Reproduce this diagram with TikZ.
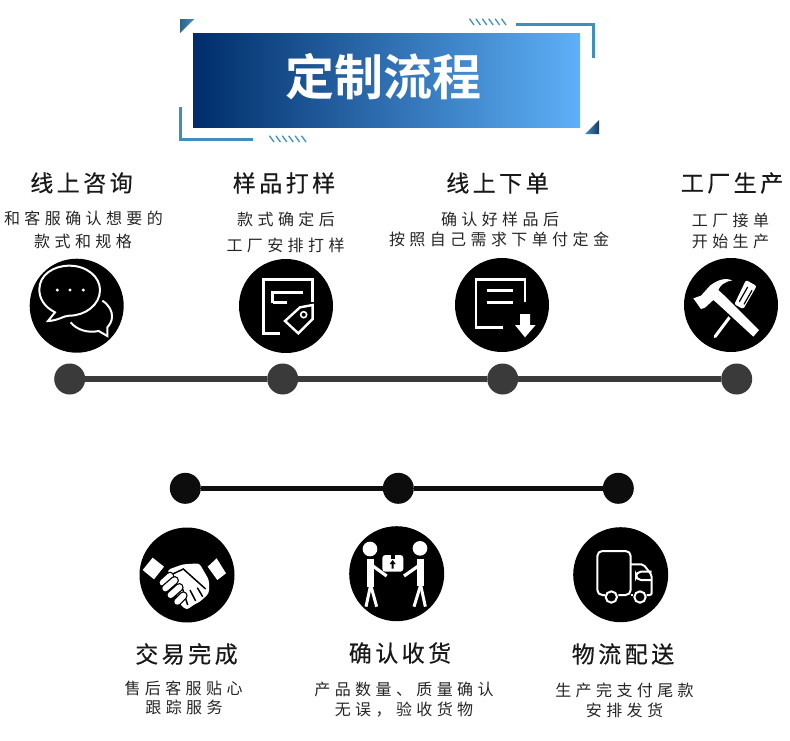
\documentclass[tikz,border=0pt]{standalone}
\usepackage{fontspec}
\usetikzlibrary{calc}
\setmainfont{Noto Sans CJK SC}
\newfontfamily\titlefont[BoldFont={Noto Sans CJK SC Bold}]{Noto Sans CJK SC}
\newfontfamily\headfont[LetterSpace=15,FakeBold=0.4]{Noto Sans CJK SC}
\newfontfamily\bodyfont[LetterSpace=27.5]{Noto Sans CJK SC}
\definecolor{deco}{HTML}{3F8FBE}
\definecolor{darkbar}{HTML}{3A3A3A}
\tikzset{
  headtxt/.style={inner sep=0pt,font=\headfont\fontsize{23}{23}\selectfont,text=black!90},
  bodytxt/.style={inner sep=0pt,font=\bodyfont\fontsize{16}{16}\selectfont,text=black!85},
  iconbg/.style={circle,fill=black,inner sep=0pt,minimum size=94pt},
  dotg/.style={circle,fill=darkbar,inner sep=0pt,minimum size=31pt},
  dotk/.style={circle,fill=black!95,inner sep=0pt,minimum size=31pt},
  barg/.style={draw=darkbar,line width=6pt},
  bark/.style={draw=black!95,line width=5.5pt},
  decoline/.style={draw=deco,line width=3pt},
  hatch/.style={draw=deco,line width=1.3pt},
  wl/.style={draw=white,line width=2pt,line join=miter},
}
\newcommand{\fingercap}[2]{%
  \draw[black,line width=8.6pt,line cap=round] #1 -- #2;
  \draw[white,line width=6pt,line cap=round] #1 -- #2;}
\begin{document}
\begin{tikzpicture}[x=1pt,y=-1pt]
\useasboundingbox (0,0) rectangle (790,740);
% --- title banner
\shade[left color=deco!70!black,right color=deco] (180,19) -- (194.3,19) -- (180,33) -- cycle;
\shade[left color=deco,right color=deco!45!black!90!blue] (599,120) -- (599,134) -- (585,134) -- cycle;
\shade[left color={rgb,255:red,0;green,45;blue,106},right color={rgb,255:red,94;green,176;blue,248}] (193,33) rectangle (580,127);
\node[inner sep=0pt,text=white] (title) at (383.5,77) {\titlefont\bfseries\fontsize{49}{49}\selectfont 定制流程};
\draw[decoline] (516,24) -- (593.3,24) -- (593.3,57.7);
\draw[decoline] (180,106.7) -- (180,139) -- (252.7,139);
\foreach \i in {0,...,5} {
  \draw[hatch] ({469.5+\i*6.4},18.8) -- ({474+\i*6.4},25);
  \draw[hatch] ({269.5+\i*6.4},135.8) -- ({274+\i*6.4},142);
}
% --- top row texts
\node[headtxt] (h1) at (81.5,183) {线上咨询};
\node[headtxt] (h2) at (284,183) {样品打样};
\node[headtxt] (h3) at (497.5,183) {线上下单};
\node[headtxt] (h4) at (732,183) {工厂生产};
\node[bodytxt] (b1a) at (83.5,218) {和客服确认想要的};
\node[bodytxt] (b1b) at (83,241) {款式和规格};
\node[bodytxt] (b2a) at (286,219) {款式确定后};
\node[bodytxt] (b2b) at (285.5,245) {工厂安排打样};
\node[bodytxt] (b3a) at (500,219) {确认好样品后};
\node[bodytxt] (b3b) at (499,239) {按照自己需求下单付定金};
\node[bodytxt] (b4a) at (730.5,220) {工厂接单};
\node[bodytxt] (b4b) at (730.5,241) {开始生产};
% --- top row icon discs
\node[iconbg] (i1) at (76.7,305.7) {};
\node[iconbg] (i2) at (286,306) {};
\node[iconbg] (i3) at (502,305) {};
\node[iconbg] (i4) at (731,305) {};
% icon 1: speech bubbles
\begin{scope}[shift={(20,250)},scale=1/3]
\draw[wl] (105,187) .. controls (72,170) and (58,145) .. (58,118) .. controls (58,75) and (100,47) .. (148,47) .. controls (200,47) and (240,80) .. (240,120) .. controls (240,165) and (195,197) .. (148,197) .. controls (130,197) and (115,212) .. (84,213) -- cycle;
\draw[wl] (247,152) .. controls (268,165) and (277,185) .. (276,200) .. controls (276,215) and (268,225) .. (262,232) -- (262,258) -- (236,243) .. controls (205,250) and (170,240) .. (152,217);
\fill[white] (112,120) circle (5) (150,120) circle (5) (190,120) circle (5);
\end{scope}
% icon 2: document with tag
\begin{scope}[shift={(20,250)},scale=1/3]
\draw[wl,line width=2.6pt] (780,250) -- (730,250) -- (730,88) -- (878,88) -- (878,155);
\draw[wl,line width=2.8pt] (758,160) -- (758,127) -- (850,127);
\draw[wl,line width=2.8pt] (758,157) -- (802,157);
\draw[wl,line width=2.4pt,fill=black] (795,213) -- (840,172) -- (878,165) -- (878,207) -- (835,250) -- cycle;
\draw[wl,line width=1.6pt] (851,194) circle (9);
\end{scope}
% icon 3: document with arrow
\begin{scope}[shift={(440,250)},scale=1/3]
\draw[wl,line width=2.6pt] (190,233) -- (108,233) -- (108,88) -- (255,88) -- (255,155);
\draw[wl,line width=2.8pt] (140,122) -- (220,122);
\draw[wl,line width=2.8pt] (140,158) -- (220,158);
\fill[white] (240,192) -- (270,192) -- (270,225) -- (287,225) -- (255,262) -- (225,225) -- (240,225) -- cycle;
\end{scope}
% icon 4: hammer and screwdriver
\begin{scope}[shift={(685,265)},scale=1/3]
\draw[white,line width=3pt,line cap=round] (90,215) -- (150,135);
\fill[white,rounded corners=2pt] (183,45) -- (215,63) -- (175,132) -- (148,118) -- cycle;
\draw[black,line width=1.2pt] (163,110) -- (188,66) (177,118) -- (201,76);
\draw[black,line width=11.5pt] (118,118) -- (175,172);
\fill[white] (25,100) -- (48,92) -- (75,62) .. controls (100,42) and (125,38) .. (142,46) .. controls (120,50) and (105,60) .. (100,75) -- (125,98) -- (222,195) -- (205,215) -- (100,118) -- (85,105) -- (60,128) -- (48,132) -- cycle;
\end{scope}
% --- top row timeline
\node[dotg] (d1) at (69.7,379) {};
\node[dotg] (d2) at (282.7,379) {};
\node[dotg] (d3) at (502.7,379) {};
\node[dotg] (d4) at (736.7,379) {};
\draw[barg] (d1) -- (d2);
\draw[barg] (d2) -- (d3);
\draw[barg] (d3) -- (d4);
% --- bottom row timeline
\node[dotk] (e1) at (185.3,488.3) {};
\node[dotk] (e2) at (398.3,488.3) {};
\node[dotk] (e3) at (618.3,488.3) {};
\draw[bark] (e1) -- (e2);
\draw[bark] (e2) -- (e3);
% --- bottom row icon discs
\node[iconbg,minimum size=95pt] (j1) at (187,575) {};
\node[iconbg,minimum size=95pt] (j2) at (396.7,573.7) {};
\node[iconbg,minimum size=95pt] (j3) at (620.7,574.7) {};
% icon 5: handshake
\begin{scope}[shift={(140,545)},scale=1/3]
\fill[white] (8,75) -- (38,38) -- (72,65) -- (42,103) -- cycle;
\fill[white] (203,65) -- (230,40) -- (258,85) -- (232,105) -- cycle;
\fill[white,rounded corners=3pt] (82,75) -- (128,58) -- (178,55) -- (207,105) -- (207,145) -- (180,170) -- (160,180) -- (140,195) -- (122,180) -- (100,125) -- (90,98) -- cycle;
\draw[black,line width=1.5pt] (92,90) -- (130,72) -- (197,132);
\draw[black,line width=1.5pt] (128,132) -- (143,180) (150,135) -- (167,168) (172,128) -- (188,155);
\fingercap{(68,113)}{(90,93)}
\fingercap{(76,130)}{(104,106)}
\fingercap{(92,150)}{(118,127)}
\fingercap{(112,170)}{(130,152)}
\end{scope}
% icon 6: two people with a parcel
\begin{scope}[shift={(130,470)},scale=1/3]
\fill[white] (720,237) circle (22) (870,235) circle (22);
\draw[white,line width=7pt] (722,268) -- (722,350);
\draw[white,line width=7pt] (872,266) -- (872,348);
\draw[white,line width=3.2pt] (722,283) -- (770,318);
\draw[white,line width=3.2pt] (872,283) -- (822,318);
\draw[white,line width=3pt] (722,345) -- (708,410);
\draw[white,line width=3pt] (722,345) -- (740,410);
\draw[white,line width=3pt] (872,345) -- (852,410);
\draw[white,line width=3pt] (872,345) -- (886,410);
\fill[white,rounded corners=3pt] (757,255) rectangle (820,305);
\fill[black] (782,255) rectangle (794,266);
\fill[black] (788,270) -- (797,282) -- (791,282) -- (791,296) -- (785,296) -- (785,282) -- (779,282) -- cycle;
\end{scope}
% icon 7: truck
\begin{scope}[shift={(400,470)},scale=1/3]
\draw[wl,rounded corners=5pt] (616,375) -- (592,375) -- (592,243) -- (692,243) -- (692,375) -- (655,375);
\draw[wl] (692,375) -- (700,375);
\draw[wl,rounded corners=2pt] (692,283) -- (730,283) -- (755,315) -- (755,375) -- (740,375);
\draw[wl,rounded corners=5pt] (755,305) -- (708,305) -- (708,330) -- (755,330);
\draw[wl] (634,381) circle (17);
\draw[wl] (720,381) circle (17);
\end{scope}
% --- bottom row texts
\node[headtxt] (h5) at (186.5,654) {交易完成};
\node[headtxt] (h6) at (400,653) {确认收货};
\node[headtxt] (h7) at (623,654) {物流配送};
\node[bodytxt] (b5a) at (183.5,688) {售后客服贴心};
\node[bodytxt] (b5b) at (184,707) {跟踪服务};
\node[bodytxt] (b6a) at (404,689) {产品数量、质量确认};
\node[bodytxt] (b6b) at (404,710) {无误\symbol{"FF0C}验收货物};
\node[bodytxt] (b7a) at (624.5,690) {生产完支付尾款};
\node[bodytxt] (b7b) at (624.5,710) {安排发货};
\end{tikzpicture}
\end{document}
